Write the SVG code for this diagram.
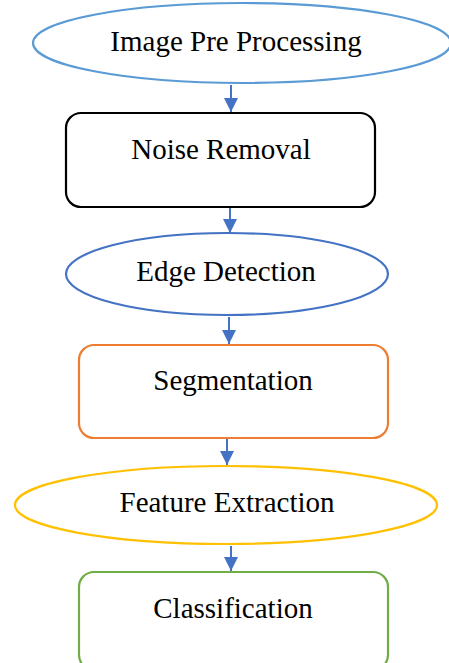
<svg xmlns="http://www.w3.org/2000/svg" width="449" height="663" viewBox="0 0 449 663">
<style>
.t{font-family:"Liberation Serif","Times New Roman",serif;font-size:29px;fill:#000;text-anchor:middle}
.c{stroke:#4472C4;stroke-width:2;fill:none}
.n{fill:#fff;stroke-width:2.2}
</style>
<defs>
<marker id="ah" viewBox="0 0 10 10" refX="10" refY="5" markerWidth="7" markerHeight="7" markerUnits="strokeWidth" orient="auto">
<path d="M0,0 L10,5 L0,10 z" fill="#4472C4"/>
</marker>
</defs>
<rect width="449" height="663" fill="#fff"/>
<g id="connectors">
<line class="c" x1="231" y1="85" x2="231" y2="112" marker-end="url(#ah)"/>
<line class="c" x1="230" y1="208" x2="230" y2="233" marker-end="url(#ah)"/>
<line class="c" x1="229" y1="317" x2="229" y2="344" marker-end="url(#ah)"/>
<line class="c" x1="227" y1="439" x2="227" y2="465" marker-end="url(#ah)"/>
<line class="c" x1="231" y1="546" x2="231" y2="571" marker-end="url(#ah)"/>
</g>
<g id="n1">
<ellipse class="n" cx="242" cy="43" rx="209" ry="40" stroke="#5B9BD5"/>
<text class="t" x="236" y="51">Image Pre Processing</text>
</g>
<g id="n2">
<rect class="n" x="66" y="113" width="309" height="94" rx="15" stroke="#000"/>
<text class="t" x="221" y="159">Noise Removal</text>
</g>
<g id="n3">
<ellipse class="n" cx="227" cy="274" rx="161" ry="41" stroke="#4472C4"/>
<text class="t" x="226" y="281">Edge Detection</text>
</g>
<g id="n4">
<rect class="n" x="79" y="345" width="309" height="93" rx="15" stroke="#ED7D31"/>
<text class="t" x="233" y="390">Segmentation</text>
</g>
<g id="n5">
<ellipse class="n" cx="226" cy="505" rx="211" ry="39" stroke="#FFC000"/>
<text class="t" x="227" y="512">Feature Extraction</text>
</g>
<g id="n6">
<rect class="n" x="79" y="572" width="309" height="98" rx="15" stroke="#70AD47"/>
<text class="t" x="233" y="618">Classification</text>
</g>
</svg>
